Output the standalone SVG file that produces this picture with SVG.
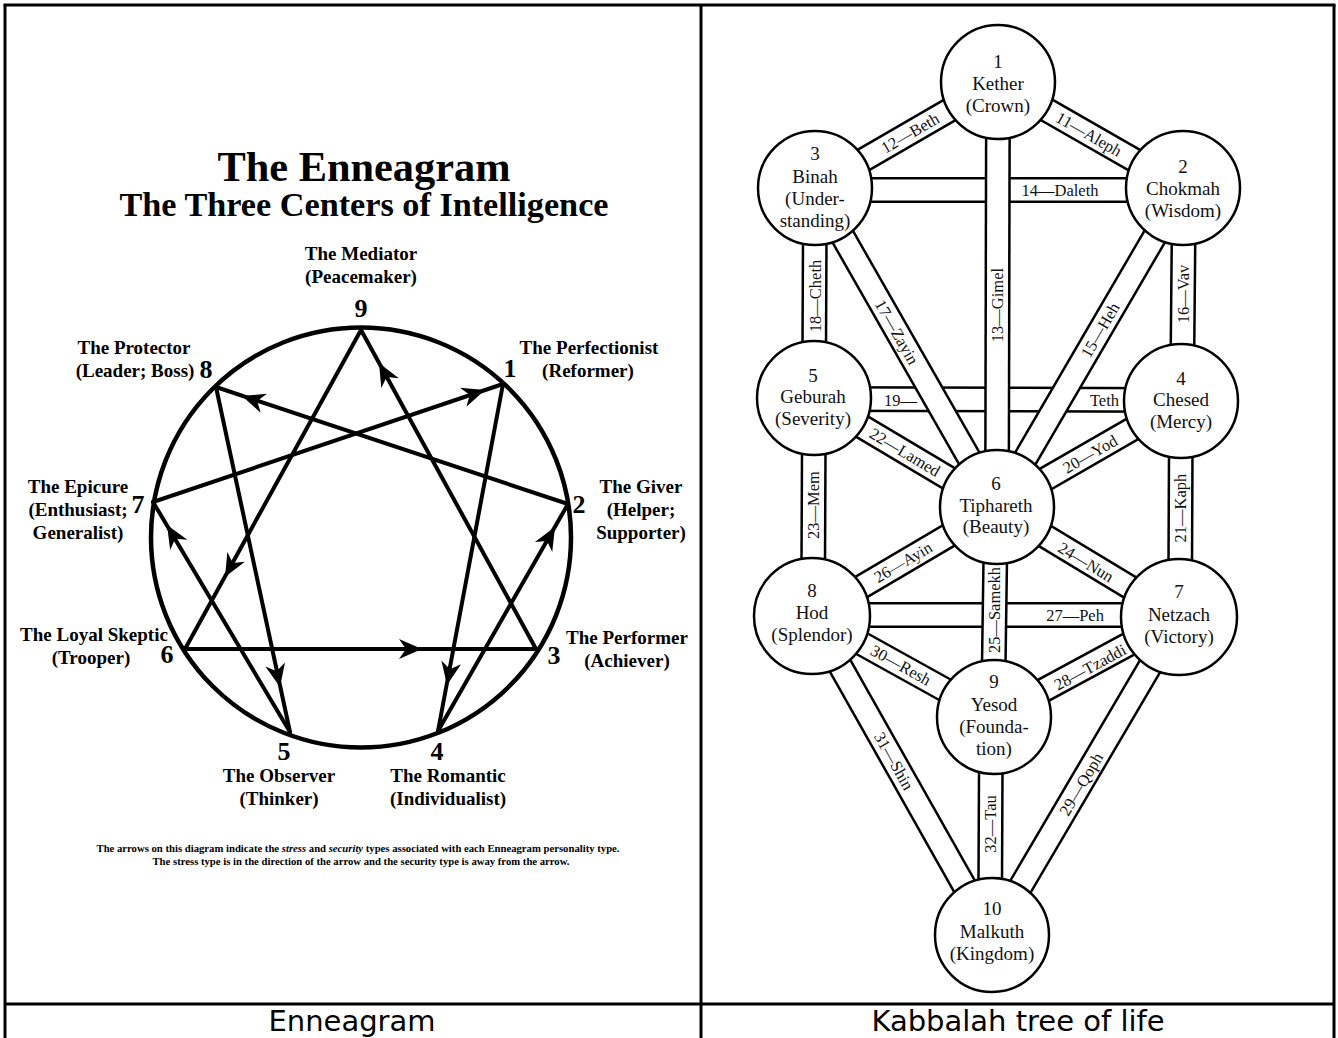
<svg xmlns="http://www.w3.org/2000/svg" xmlns:xlink="http://www.w3.org/1999/xlink" width="1338" height="1038" viewBox="0 0 1338 1038">
<style>
.frame{stroke:#000;stroke-width:3;fill:none}
.cap{font-family:"DejaVu Sans",Verdana,sans-serif;font-size:29px;fill:#000;text-anchor:middle}
.et{font-family:"Liberation Serif","Times New Roman",serif;font-weight:bold;fill:#000;text-anchor:middle}
.lbl{font-size:19px}
.num{font-size:26px}
.eline{stroke:#000;stroke-width:4;fill:none;stroke-linecap:round}
.bo{stroke:#000;stroke-width:26}
.bi{stroke:#fff;stroke-width:21}
.seph{fill:#fff;stroke:#000;stroke-width:2.5}
.st{font-family:"Liberation Serif","Times New Roman",serif;font-size:19px;fill:#111;text-anchor:middle}
.pl{font-family:"Liberation Serif","Times New Roman",serif;font-size:16.5px;fill:#111;text-anchor:middle}
.pl.start{text-anchor:start}
.pl.end{text-anchor:end}
</style>
<defs>
<path id="ah" d="M0,0 L-23,-10 L-16,0 L-23,10 Z" fill="#000"/>
</defs>
<rect width="1338" height="1038" fill="#fff"/>
<g id="table">
<line class="frame" x1="3.5" y1="5" x2="1335.5" y2="5"/>
<line class="frame" x1="5" y1="5" x2="5" y2="1038"/>
<line class="frame" x1="701" y1="5" x2="701" y2="1038"/>
<line class="frame" x1="1334" y1="5" x2="1334" y2="1038"/>
<line class="frame" x1="5" y1="1004" x2="1334" y2="1004"/>
<text class="cap" x="352" y="1031">Enneagram</text>
<text class="cap" x="1018" y="1031">Kabbalah tree of life</text>
</g>

<!-- Enneagram -->
<g id="enneagram-title">
<text class="et" x="364" y="181" font-size="42" textLength="293" lengthAdjust="spacingAndGlyphs">The Enneagram</text>
<text class="et" x="364" y="216" font-size="33" textLength="489" lengthAdjust="spacingAndGlyphs">The Three Centers of Intelligence</text>
</g>
<circle id="enneagram-circle" cx="361" cy="537.5" r="210" fill="none" stroke="#000" stroke-width="4.5"/>
<g id="enneagram-connectors">
<line class="eline" x1="361" y1="330" x2="536" y2="649"/>
<line class="eline" x1="361" y1="330" x2="185" y2="649"/>
<line class="eline" x1="185" y1="649" x2="536" y2="649"/>
<line class="eline" x1="503" y1="384" x2="438" y2="731"/>
<line class="eline" x1="438" y1="731" x2="568" y2="504"/>
<line class="eline" x1="568" y1="504" x2="216" y2="387"/>
<line class="eline" x1="216" y1="387" x2="290" y2="732"/>
<line class="eline" x1="290" y1="732" x2="153" y2="502"/>
<line class="eline" x1="153" y1="502" x2="503" y2="384"/>
<use xlink:href="#ah" href="#ah" transform="translate(379,363) rotate(-118.75)"/>
<use xlink:href="#ah" href="#ah" transform="translate(242,396) rotate(-161.6)"/>
<use xlink:href="#ah" href="#ah" transform="translate(485,390) rotate(-18.6)"/>
<use xlink:href="#ah" href="#ah" transform="translate(225,577) rotate(118.9)"/>
<use xlink:href="#ah" href="#ah" transform="translate(167,525) rotate(-120.8)"/>
<use xlink:href="#ah" href="#ah" transform="translate(280,687) rotate(77.9)"/>
<use xlink:href="#ah" href="#ah" transform="translate(422,649)"/>
<use xlink:href="#ah" href="#ah" transform="translate(447,685) rotate(100.6)"/>
<use xlink:href="#ah" href="#ah" transform="translate(555,527) rotate(-60.2)"/>
</g>
<g id="type9"><text class="et lbl" x="361" y="260">The Mediator</text><text class="et lbl" x="361" y="283">(Peacemaker)</text><text class="et num" x="361" y="317">9</text></g>
<g id="type8"><text class="et lbl" x="134" y="354">The Protector</text><text class="et lbl" x="135" y="377">(Leader; Boss)</text><text class="et num" x="206" y="378">8</text></g>
<g id="type1"><text class="et lbl" x="589" y="354">The Perfectionist</text><text class="et lbl" x="588" y="377">(Reformer)</text><text class="et num" x="510" y="377">1</text></g>
<g id="type7"><text class="et lbl" x="78" y="493">The Epicure</text><text class="et lbl" x="78" y="516">(Enthusiast;</text><text class="et lbl" x="78" y="539">Generalist)</text><text class="et num" x="138" y="513">7</text></g>
<g id="type2"><text class="et lbl" x="641" y="493">The Giver</text><text class="et lbl" x="641" y="516">(Helper;</text><text class="et lbl" x="641" y="539">Supporter)</text><text class="et num" x="579" y="513">2</text></g>
<g id="type6"><text class="et lbl" x="94" y="641">The Loyal Skeptic</text><text class="et lbl" x="91" y="664">(Trooper)</text><text class="et num" x="167" y="663">6</text></g>
<g id="type3"><text class="et lbl" x="627" y="644">The Performer</text><text class="et lbl" x="627" y="667">(Achiever)</text><text class="et num" x="554" y="664">3</text></g>
<g id="type5"><text class="et num" x="284" y="760">5</text><text class="et lbl" x="279" y="782">The Observer</text><text class="et lbl" x="279" y="805">(Thinker)</text></g>
<g id="type4"><text class="et num" x="437" y="760">4</text><text class="et lbl" x="448" y="782">The Romantic</text><text class="et lbl" x="448" y="805">(Individualist)</text></g>
<g id="enneagram-note">
<text class="et" x="358" y="852" font-size="10" textLength="523" lengthAdjust="spacingAndGlyphs">The arrows on this diagram indicate the <tspan font-style="italic">stress</tspan> and <tspan font-style="italic">security</tspan> types associated with each Enneagram personality type.</text>
<text class="et" x="361" y="865" font-size="10" textLength="417" lengthAdjust="spacingAndGlyphs">The stress type is in the direction of the arrow and the security type is away from the arrow.</text>
</g>

<!-- Tree of life -->
<g id="connectors">
<g id="p14"><line class="bo" x1="815" y1="190" x2="1183" y2="190"/><line class="bi" x1="815" y1="190" x2="1183" y2="190"/></g>
<g id="p19"><line class="bo" x1="814" y1="399" x2="1181" y2="400"/><line class="bi" x1="814" y1="399" x2="1181" y2="400"/></g>
<g id="p27"><line class="bo" x1="812" y1="615" x2="1179" y2="615"/><line class="bi" x1="812" y1="615" x2="1179" y2="615"/></g>
<g id="p11"><line class="bo" x1="998" y1="82" x2="1183" y2="188"/><line class="bi" x1="998" y1="82" x2="1183" y2="188"/></g>
<g id="p12"><line class="bo" x1="815" y1="188" x2="998" y2="82"/><line class="bi" x1="815" y1="188" x2="998" y2="82"/></g>
<g id="p17"><line class="bo" x1="815" y1="188" x2="997" y2="507"/><line class="bi" x1="815" y1="188" x2="997" y2="507"/></g>
<g id="p15"><line class="bo" x1="1183" y1="188" x2="997" y2="507"/><line class="bi" x1="1183" y1="188" x2="997" y2="507"/></g>
<g id="p13"><line class="bo" x1="998" y1="82" x2="997" y2="507"/><line class="bi" x1="998" y1="82" x2="997" y2="507"/></g>
<g id="p16"><line class="bo" x1="1184" y1="188" x2="1182" y2="401"/><line class="bi" x1="1184" y1="188" x2="1182" y2="401"/></g>
<g id="p18"><line class="bo" x1="815" y1="188" x2="814" y2="398"/><line class="bi" x1="815" y1="188" x2="814" y2="398"/></g>
<g id="p20"><line class="bo" x1="1181" y1="401" x2="997" y2="507"/><line class="bi" x1="1181" y1="401" x2="997" y2="507"/></g>
<g id="p22"><line class="bo" x1="814" y1="398" x2="997" y2="507"/><line class="bi" x1="814" y1="398" x2="997" y2="507"/></g>
<g id="p21"><line class="bo" x1="1181" y1="401" x2="1180" y2="617"/><line class="bi" x1="1181" y1="401" x2="1180" y2="617"/></g>
<g id="p23"><line class="bo" x1="814" y1="398" x2="813" y2="616"/><line class="bi" x1="814" y1="398" x2="813" y2="616"/></g>
<g id="p24"><line class="bo" x1="997" y1="507" x2="1179" y2="617"/><line class="bi" x1="997" y1="507" x2="1179" y2="617"/></g>
<g id="p26"><line class="bo" x1="812" y1="616" x2="997" y2="507"/><line class="bi" x1="812" y1="616" x2="997" y2="507"/></g>
<g id="p25"><line class="bo" x1="996" y1="507" x2="993" y2="717"/><line class="bi" x1="996" y1="507" x2="993" y2="717"/></g>
<g id="p28"><line class="bo" x1="994" y1="717" x2="1179" y2="617"/><line class="bi" x1="994" y1="717" x2="1179" y2="617"/></g>
<g id="p30"><line class="bo" x1="812" y1="616" x2="994" y2="717"/><line class="bi" x1="812" y1="616" x2="994" y2="717"/></g>
<g id="p29"><line class="bo" x1="992" y1="935" x2="1179" y2="617"/><line class="bi" x1="992" y1="935" x2="1179" y2="617"/></g>
<g id="p31"><line class="bo" x1="812" y1="616" x2="992" y2="935"/><line class="bi" x1="812" y1="616" x2="992" y2="935"/></g>
<g id="p32"><line class="bo" x1="991" y1="717" x2="990" y2="935"/><line class="bi" x1="991" y1="717" x2="990" y2="935"/></g>
</g>
<g id="path-labels">
<text class="pl" transform="translate(910,133) rotate(-30.1)" dy="0.35em">12—Beth</text>
<text class="pl" transform="translate(1089,134) rotate(29.8)" dy="0.35em">11—Aleph</text>
<text class="pl" x="1060" y="190" dy="0.35em">14—Daleth</text>
<text class="pl" transform="translate(997,305) rotate(-90)" dy="0.35em">13—Gimel</text>
<text class="pl" transform="translate(1100,330) rotate(-59.75)" dy="0.35em">15—Heh</text>
<text class="pl" transform="translate(1183,294) rotate(-90)" dy="0.35em">16—Vav</text>
<text class="pl" transform="translate(897,332) rotate(60.3)" dy="0.35em">17—Zayin</text>
<text class="pl" transform="translate(815,296) rotate(-90)" dy="0.35em">18—Cheth</text>
<text class="pl start" x="884" y="400" dy="0.35em">19—</text>
<text class="pl end" x="1119" y="400" dy="0.35em">Teth</text>
<text class="pl" transform="translate(1090,454) rotate(-29.9)" dy="0.35em">20—Yod</text>
<text class="pl" transform="translate(1180,508) rotate(-90)" dy="0.35em">21—Kaph</text>
<text class="pl" transform="translate(905,452) rotate(30.8)" dy="0.35em">22—Lamed</text>
<text class="pl" transform="translate(813,505) rotate(-90)" dy="0.35em">23—Mem</text>
<text class="pl" transform="translate(1086,562) rotate(31.1)" dy="0.35em">24—Nun</text>
<text class="pl" transform="translate(994,610) rotate(-90)" dy="0.35em">25—Samekh</text>
<text class="pl" transform="translate(903,562) rotate(-30.5)" dy="0.35em">26—Ayin</text>
<text class="pl" x="1075" y="615" dy="0.35em">27—Peh</text>
<text class="pl" transform="translate(1090,667) rotate(-28.4)" dy="0.35em">28—Tzaddi</text>
<text class="pl" transform="translate(1081,784) rotate(-59.5)" dy="0.35em">29—Qoph</text>
<text class="pl" transform="translate(901,665) rotate(29)" dy="0.35em">30—Resh</text>
<text class="pl" transform="translate(894,761) rotate(60.6)" dy="0.35em">31—Shin</text>
<text class="pl" transform="translate(990,824) rotate(-90)" dy="0.35em">32—Tau</text>
</g>
<g id="s1"><circle class="seph" cx="998" cy="82" r="57"/><text class="st" x="998" y="68">1</text><text class="st" x="998" y="90">Kether</text><text class="st" x="998" y="112">(Crown)</text></g>
<g id="s2"><circle class="seph" cx="1183" cy="188" r="57"/><text class="st" x="1183" y="173">2</text><text class="st" x="1183" y="195">Chokmah</text><text class="st" x="1183" y="217">(Wisdom)</text></g>
<g id="s3"><circle class="seph" cx="815" cy="188" r="57"/><text class="st" x="815" y="160">3</text><text class="st" x="815" y="183">Binah</text><text class="st" x="815" y="205">(Under-</text><text class="st" x="815" y="227">standing)</text></g>
<g id="s4"><circle class="seph" cx="1181" cy="401" r="57"/><text class="st" x="1181" y="385">4</text><text class="st" x="1181" y="406">Chesed</text><text class="st" x="1181" y="428">(Mercy)</text></g>
<g id="s5"><circle class="seph" cx="814" cy="398" r="57"/><text class="st" x="813" y="382">5</text><text class="st" x="813" y="403">Geburah</text><text class="st" x="813" y="425">(Severity)</text></g>
<g id="s6"><circle class="seph" cx="997" cy="507" r="57"/><text class="st" x="996" y="490">6</text><text class="st" x="996" y="512">Tiphareth</text><text class="st" x="996" y="533">(Beauty)</text></g>
<g id="s7"><circle class="seph" cx="1179" cy="617" r="58"/><text class="st" x="1179" y="598">7</text><text class="st" x="1179" y="621">Netzach</text><text class="st" x="1179" y="643">(Victory)</text></g>
<g id="s8"><circle class="seph" cx="812" cy="616" r="58"/><text class="st" x="812" y="597">8</text><text class="st" x="812" y="619">Hod</text><text class="st" x="812" y="641">(Splendor)</text></g>
<g id="s9"><circle class="seph" cx="994" cy="717" r="57"/><text class="st" x="994" y="688">9</text><text class="st" x="994" y="711">Yesod</text><text class="st" x="994" y="733">(Founda-</text><text class="st" x="994" y="755">tion)</text></g>
<g id="s10"><circle class="seph" cx="992" cy="935" r="57"/><text class="st" x="992" y="915">10</text><text class="st" x="992" y="938">Malkuth</text><text class="st" x="992" y="960">(Kingdom)</text></g>
</svg>
